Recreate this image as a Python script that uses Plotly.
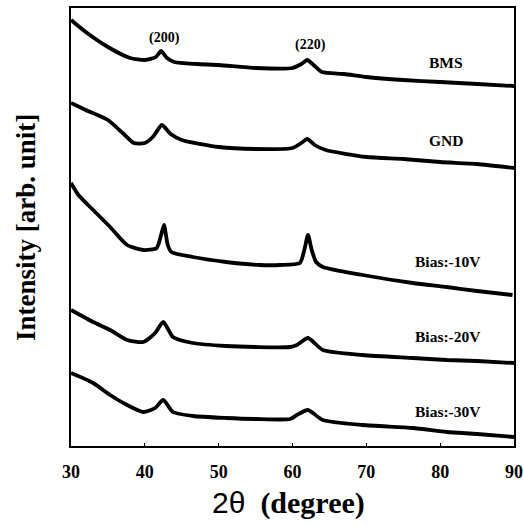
import plotly.graph_objects as go

# 2-theta positions (degree) and intensities (arb. unit, stacked offsets as drawn)
x_bms = [30, 32, 35, 38, 40, 41.5, 42.2, 43, 44, 47, 50, 55, 60, 61.2, 62, 63, 64, 67, 70, 75, 80, 85, 90]
y_bms = [426, 414, 399, 388, 386, 389, 395, 388, 384, 382, 381, 378, 378, 382, 386, 380, 374, 372, 369, 366, 364, 362, 360]

x_gnd = [30, 32, 35, 37, 38.5, 40, 41.2, 42.3, 43.5, 45, 50, 55, 60, 61.2, 62, 63, 64.5, 70, 75, 80, 85, 90]
y_gnd = [343, 336, 326, 313, 303, 303, 310, 321, 312, 306, 299, 297, 298, 303, 307, 301, 296, 289, 287, 284, 282, 278]

x_b10 = [30, 31, 33, 35.3, 37.6, 39.8, 41.6, 42.2, 42.6, 43.1, 43.6, 46.5, 51, 55.6, 58.3, 61, 61.6, 62.1, 62.6, 63.2, 64.1, 69.5, 76.3, 80.9, 85, 89.8]
y_b10 = [263, 251, 236, 219, 201, 196, 198, 211, 221, 201, 194, 189, 184, 181, 181, 183, 196, 211, 196, 184, 179, 171, 163, 159, 155, 151]

x_b20 = [30, 33, 35.3, 37.6, 39.8, 41.4, 42.5, 43.8, 46.5, 51, 55, 59.7, 60.6, 62.1, 64.1, 69.5, 76.3, 80.9, 85, 90]
y_b20 = [136, 124, 116, 106, 104, 113, 124, 109, 103, 100, 99, 99, 101, 108, 96, 91, 88, 86, 85, 83]

x_b30 = [30, 33, 35.3, 37.6, 39.8, 41.4, 42.5, 43.8, 46.5, 51, 55, 59.7, 60.6, 62.1, 64.1, 69.5, 76.3, 80.9, 85, 90]
y_b30 = [73, 63, 51, 41, 34, 38, 46, 34, 30, 28, 27, 27, 31, 36, 26, 21, 18, 14, 12, 9]

series = [("BMS", x_bms, y_bms), ("GND", x_gnd, y_gnd), ("Bias:-10V", x_b10, y_b10),
          ("Bias:-20V", x_b20, y_b20), ("Bias:-30V", x_b30, y_b30)]

label_names = ["BMS", "GND", "Bias:-10V", "Bias:-20V", "Bias:-30V"]
label_x = [80.8, 80.8, 81.1, 81.1, 81.1]
label_y = [384, 306, 185, 110, 35]

peak_names = ["(200)", "(220)"]
peak_x = [42.7, 62.4]
peak_y = [408, 401]

x_ticks = [30, 40, 50, 60, 70, 80, 90]

fig = go.Figure()
for name, xs, ys in series:
    fig.add_trace(go.Scatter(x=xs, y=ys, mode="lines", name=name,
                             line=dict(color="black", width=3.8, shape="spline", smoothing=0.6),
                             showlegend=False))

serif = "Liberation Serif"
ann = []
for t, xx, yy in zip(label_names, label_x, label_y):
    ann.append(dict(x=xx, y=yy, text=t, showarrow=False, xref="x", yref="y",
                    font=dict(family=serif, size=15.5, color="black", weight="bold")))
for t, xx, yy in zip(peak_names, peak_x, peak_y):
    ann.append(dict(x=xx, y=yy, text=t, showarrow=False, xref="x", yref="y",
                    font=dict(family=serif, size=14, color="black", weight="bold")))
ann.append(dict(x=26, y=228, xref="paper", yref="paper", text="Intensity [arb. unit]",
                showarrow=False, textangle=-90, xanchor="center", yanchor="middle",
                font=dict(family=serif, size=27, color="black", weight="bold")))
ann.append(dict(x=288, y=503, xref="paper", yref="paper",
                text="<span style='font-family:Liberation Sans;font-weight:normal'>2θ</span>  (degree)",
                showarrow=False, xanchor="center", yanchor="middle",
                font=dict(family=serif, size=30, color="black", weight="bold")))

# convert pixel-positioned title annotations to paper coords
W, H = 523, 526
L, R, T, B = 71, 9, 8, 80
for a in ann[-2:]:
    a["x"] = (a["x"] - L) / (W - L - R)
    a["y"] = (H - B - a["y"]) / (H - T - B)

fig.update_layout(
    width=W, height=H,
    margin=dict(l=L, r=R, t=T, b=B, autoexpand=False),
    paper_bgcolor="white", plot_bgcolor="white",
    annotations=ann,
    xaxis=dict(range=[30, 90], tickvals=x_ticks, ticktext=[str(v) for v in x_ticks],
               automargin=False,
               showgrid=False, zeroline=False, showline=True, linecolor="black",
               linewidth=2, mirror=True, ticks="inside", ticklen=3, tickcolor="black",
               ticklabelstandoff=8,
               tickfont=dict(family=serif, size=18, color="black", weight="bold")),
    yaxis=dict(range=[0, 438], showticklabels=False, showgrid=False, zeroline=False,
               automargin=False,
               showline=True, linecolor="black", linewidth=2, mirror=True, ticks=""),
)

fig.write_html("out.html")
